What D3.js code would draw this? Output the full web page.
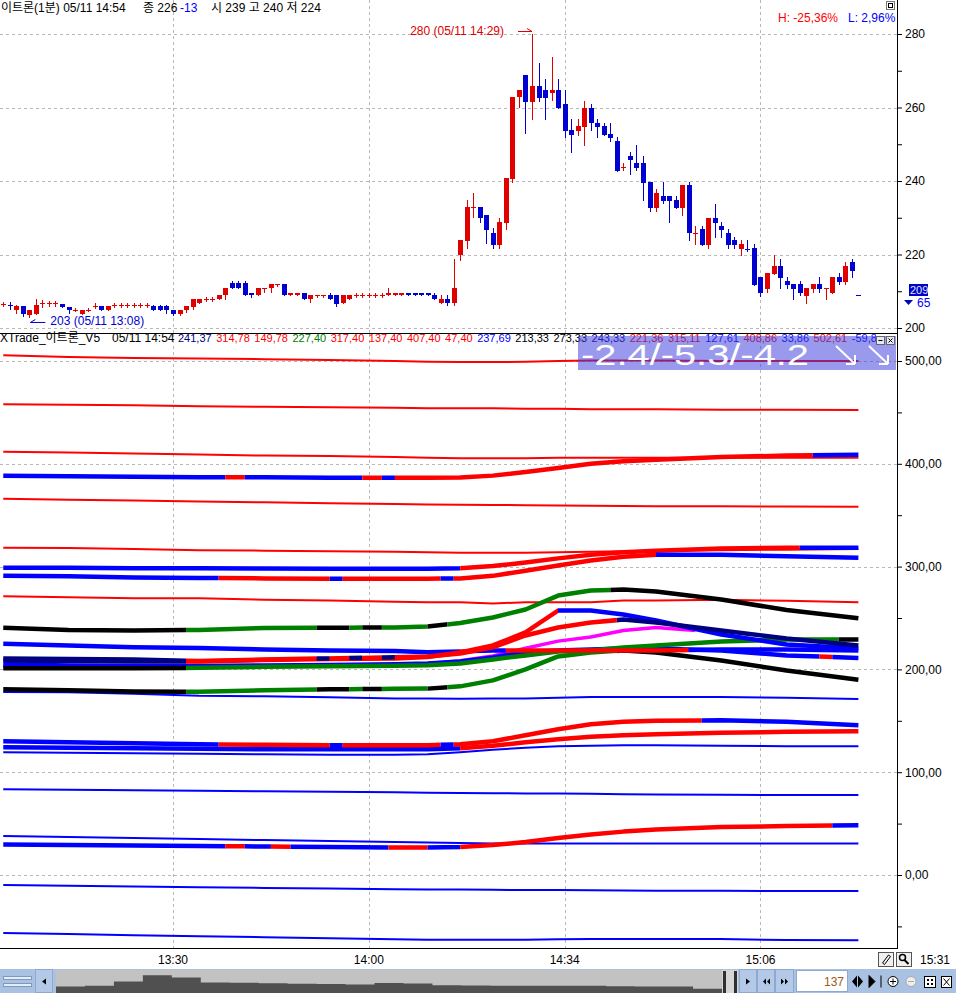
<!DOCTYPE html>
<html><head><meta charset="utf-8">
<script src="https://cdn.jsdelivr.net/npm/d3@7"></script>
<style>
body{margin:0;background:#fff;overflow:hidden;}
svg{display:block;}
</style></head><body>
<svg id="c" width="956" height="993"></svg>
<script>
// ================= DATA =================
// 1-minute candles, bar index 0 = 13:04
const opens = [
206.6,206.3,204.9,206.0,203.5,203.7,206.7,206.7,206.7,206.6,
205.8,204.9,203.7,204.9,206.0,206.0,204.9,206.3,206.3,206.3,
206.3,206.3,206.3,206.0,206.0,206.0,204.9,203.7,204.9,205.8,
206.7,207.8,207.8,207.8,209.0,212.2,212.2,212.2,209.6,209.0,
210.8,210.8,212.0,212.0,209.0,209.0,209.6,207.8,209.0,209.0,
209.0,209.0,206.7,207.8,209.0,209.0,209.0,209.0,209.0,209.0,
209.0,209.0,209.6,209.6,209.6,209.6,209.0,206.7,207.8,206.7,
219.9,223.7,232.9,232.9,230.7,225.9,222.6,228.6,240.5,262.9,
268.8,261.5,265.9,264.8,263.9,264.8,261.0,253.9,253.6,254.7,
259.9,255.8,255.0,252.8,250.9,243.8,246.8,244.9,244.9,239.7,
232.7,235.9,235.9,234.8,232.7,238.9,225.9,226.9,222.6,229.9,
227.8,225.9,223.9,221.5,221.5,221.8,213.9,210.6,214.7,216.9,
212.8,212.0,212.0,208.7,210.6,212.0,210.9,209.5,213.9,212.5,
218.0,209.0];
const highs = [
207.2,207.1,206.3,206.0,204.9,207.8,207.6,207.3,207.3,206.6,
205.8,205.4,204.9,205.5,206.7,206.0,206.0,206.9,206.9,206.9,
206.9,206.9,206.9,206.3,206.3,206.3,204.9,204.9,206.0,207.8,
207.8,208.4,208.4,209.0,210.8,212.9,212.9,212.9,209.6,210.8,
210.8,212.0,212.0,212.0,209.6,209.6,209.6,209.0,209.0,209.0,
209.6,209.0,209.0,209.0,209.6,209.6,209.6,209.6,209.6,210.8,
209.6,209.6,209.6,209.6,209.6,209.6,209.6,209.0,209.0,218.8,
223.9,234.8,236.7,232.9,230.7,227.2,229.9,240.8,262.9,264.8,
268.8,280.0,272.1,267.8,273.7,267.8,264.8,256.9,256.9,261.8,
261.0,256.9,255.8,255.8,252.0,244.9,247.9,249.8,246.8,239.7,
237.8,239.7,235.9,235.9,238.9,239.7,227.8,227.8,229.9,233.7,
228.8,226.9,224.8,223.9,223.9,222.9,213.9,215.0,219.9,218.8,
213.9,212.0,212.8,210.9,212.0,213.9,210.9,213.9,215.0,218.0,
218.8,209.0];
const lows = [
206.0,205.2,204.0,203.3,203.0,203.7,205.8,206.0,206.0,205.8,
204.0,204.5,203.7,204.5,205.5,204.9,204.9,205.8,205.8,205.8,
205.8,205.8,205.8,204.9,204.9,204.0,203.5,203.5,204.3,205.2,
206.7,207.3,207.3,207.8,207.8,210.8,210.8,209.0,208.5,209.0,
209.9,209.9,211.4,209.0,209.0,209.0,207.8,207.2,208.3,208.3,
207.8,206.0,206.7,207.8,208.4,208.4,208.4,208.4,208.4,209.0,
209.0,209.0,209.0,209.0,209.0,209.0,207.8,206.7,206.3,206.3,
218.5,221.8,230.2,228.9,223.1,221.8,221.8,226.9,239.8,260.1,
253.1,256.9,261.8,256.9,262.0,259.9,252.0,247.9,252.5,249.8,
253.9,252.0,252.5,250.9,242.7,243.0,241.9,243.0,234.8,231.8,
231.8,234.0,228.8,232.7,230.7,223.9,222.9,222.6,221.8,224.8,
224.8,221.8,221.8,219.9,221.0,211.7,208.7,209.8,214.7,210.9,
210.9,207.9,209.0,206.8,209.8,209.8,207.9,209.5,212.0,212.0,
213.9,209.0];
const closes = [
206.6,206.3,206.0,203.7,204.9,206.2,206.7,206.7,206.7,205.8,
204.9,204.9,204.9,204.9,206.0,204.9,206.0,206.3,206.3,206.3,
206.3,206.3,206.3,204.9,204.9,204.9,203.7,204.9,206.0,207.8,
207.8,207.8,207.8,209.0,210.8,210.8,210.8,209.0,209.0,210.8,
210.8,212.0,212.0,209.0,209.6,209.6,207.8,209.0,209.0,209.0,
207.8,206.5,209.0,209.0,209.0,209.0,209.0,209.0,209.0,209.6,
209.6,209.6,209.0,209.0,209.0,209.0,207.8,207.8,206.7,210.8,
223.9,232.9,232.9,229.9,226.7,222.6,228.8,240.8,262.9,264.8,
261.5,265.9,262.6,262.6,264.8,259.9,253.6,252.5,255.0,259.9,
255.8,254.7,252.5,251.7,242.7,243.8,245.7,243.5,239.5,232.7,
236.7,234.6,234.6,232.7,238.9,225.9,225.9,222.6,229.9,228.6,
226.7,222.6,222.6,222.9,221.5,211.7,209.5,215.0,216.9,213.6,
211.7,210.6,209.5,210.9,212.0,210.6,210.9,213.9,212.5,216.9,
215.5,209.0];

const slotCount = 137;
const timeTickBars = [26, 56, 86, 116];
const timeTickLabels = ['13:30', '14:00', '14:34', '15:06'];
const priceTicks = [200, 210, 220, 230, 240, 250, 260, 270, 280];
const priceGridLevels = [200, 220, 240, 260, 280];
const indTicks = [-50, 0, 50, 100, 150, 200, 250, 300, 350, 400, 450, 500];
const indGridLevels = [0, 100, 200, 300, 400, 500];

// indicator lines: values read at these bars
const sampleBars = [0, 10, 20, 30, 40, 50, 60, 65, 70, 75, 80, 85, 90, 95, 100, 110, 120, 131];

const redTop   = [505.5,504,503,502.5,501.8,501,500,499.3,499,499,499.2,500,500.5,500.5,500.5,500,500,500];
const red458   = [458,457.5,457,456,455.5,455,454.5,454,454,454,453.5,453.5,453,453,453,452.5,452.5,452.4];
const red412   = [411.7,411,410,409,408,407.5,406.5,406,405.5,405.5,405.5,406,406,406,406,406,406,406];
const red366   = [366,365,364.2,363.3,362.5,361.7,361,360.5,360.2,360,359.7,359.5,359.2,359,358.8,358.6,358.4,358.3];
const red318   = [318.4,318,317,316,315.5,315,314.5,314,313.5,313.5,313.5,314,314.5,315,315.5,316,316.5,317];
const red271   = [271.2,270.2,269.2,269.2,267.7,267,265.7,265.3,265.3,264.1,265.3,265.3,265.3,267,267,267.7,266.7,265.3];
const blue178  = [178,177.7,176.4,174.3,173.8,172.8,171.6,171.6,171.4,171.6,171.6,172.5,173.1,173.1,173.1,173.1,172.5,171.2];
const blue119  = [119.4,118.9,118.4,118,117.5,117,117,117.5,119.4,121.8,123.8,125.2,125.7,126.2,126.2,125.7,125.2,125.2];
const blue83   = [83.5,83,82.5,82,81.5,81,80.5,80,79.8,79.5,79.4,79.2,79,78.6,78.3,78,77.8,77.7];
const blue38   = [37.9,36.9,35.9,35,34,33,32,31.6,31.1,30.6,30.6,30.6,30.6,30.6,30.6,30.6,30.6,30.6];
const blueM10  = [-9.7,-10.5,-11.3,-12,-12.6,-13.2,-13.8,-14,-14.2,-14.4,-14.6,-14.7,-14.9,-15.1,-15.3,-15.4,-15.5,-15.5];
const blueM56  = [-56.3,-57.5,-58.5,-59.5,-60.5,-61.5,-62.5,-63,-63,-63,-63,-62.5,-62.2,-62.2,-62.2,-62.2,-63.3,-63.5];

const thick389 = [388.3,388,387.5,387,386.8,386.5,386.4,386.4,386.6,388.5,392,396,400,402.5,404,406.5,408,408.7];
const thick299 = [299,298.8,298.5,298.3,298.2,298,298,298,298.3,300.5,304,308,311.5,314,315.5,317.5,318.4,318.4];
const thick291 = [291,290.5,289.5,289,288.5,288.3,288.3,288.3,288.5,291,296,301,306,309.5,311.5,311.5,310,308.7];
const bgUpper  = [240.5,238.3,237.9,238.3,240.3,240.5,240.8,241.7,245.1,250.5,258.3,271.8,276.7,277.7,275.7,268,257.8,249.8];
const bgLower  = [180.6,179.6,178.6,178.2,179.6,180.6,181.1,181.3,183.5,189.3,200,212.6,216.5,218.4,216.5,208.7,199,190];
const magenta  = [203,203,202.5,203,203.5,204,204.5,205.4,208.5,213,220.5,227.5,231.5,237.9,240.8,236,230,223];
const greenMid = [201,201,201,201.5,202.5,203,203.5,204,205.8,209.7,213.6,217.5,218.4,221.4,223.3,227.2,229.1,229.1];
const blueLow  = [204.9,203.9,203.4,203.4,203.9,204.4,204.9,205.8,207.8,211.7,216.5,218.4,219.4,220.4,220.4,218.4,213.6,211.2];
const blueFlat = [225,223.3,221.6,220.7,219.4,218.4,217.8,216.8,217.5,218.4,218.4,218.4,218.4,218.4,218.4,219.4,219.4,218.4];
const redPeak  = [208.7,208.2,207.8,207.8,209.2,210.2,210.7,212.1,216.5,223.3,236,257.3,257.3,253.4,247.6,234,224.3,220.4];
const redNavy  = [210.7,210.2,209.7,208.2,209.7,210.7,211.7,212.6,215.5,221.4,233,240.8,245.6,248.5,245.6,237.9,230.1,223.3];
const thick130 = [130.1,129.1,128.2,127.2,126.7,126.2,126.2,126.2,127.2,130.1,135.9,141.7,146.6,149,150,150.5,149,145.6];
const thick124 = [124.3,123.8,123.3,122.8,122.3,122.3,122.3,122.3,123.3,125.7,129.1,132,134.5,135.9,136.9,138.3,139.3,139.8];
const thick30  = [29.6,29.1,28.7,28.2,27.7,27.2,26.7,26.7,27.2,29.1,32,35.9,39.3,42.2,44.2,46.6,47.6,48.5];

// colour states along each line: [fromBar, toBar, state]
const runsThick389 = [[0,34,'b'],[34,37,'r'],[37,55,'b'],[55,58,'r'],[58,60,'b'],[60,124,'r'],[124,131,'b']];
const runsThick299 = [[0,70,'b'],[70,122,'r'],[122,131,'b']];
const runsThick291 = [[0,33,'b'],[33,50,'r'],[50,52,'b'],[52,67,'r'],[67,69,'b'],[69,100,'r'],[100,131,'b']];
const runsBgUpper  = [[0,28,'k'],[28,48,'g'],[48,53,'k'],[53,55,'g'],[55,58,'k'],[58,65,'g'],[65,68,'k'],[68,93,'g'],[93,131,'k']];
const runsBgLower  = [[0,28,'k'],[28,48,'g'],[48,53,'k'],[53,55,'g'],[55,58,'k'],[58,65,'g'],[65,68,'k'],[68,94,'g'],[94,131,'k']];
const runsMagenta  = [[0,106,'m']];
const runsGreenMid = [[0,28,'k'],[28,128,'g'],[128,131,'k']];
const runsBlueLow  = [[0,125,'b'],[125,127,'r'],[127,131,'b']];
const runsBlueFlat = [[0,70,'b'],[70,72,'r'],[72,77,'b'],[77,105,'r'],[105,131,'b']];
const runsRedPeak  = [[0,28,'n'],[28,85,'r'],[85,131,'b']];
const runsRedNavy  = [[0,28,'n'],[28,48,'r'],[48,50,'n'],[50,53,'r'],[53,55,'n'],[55,58,'r'],[58,60,'n'],[60,94,'r'],[94,131,'n']];
const runsThick130 = [[0,33,'b'],[33,50,'r'],[50,52,'b'],[52,67,'r'],[67,69,'b'],[69,107,'r'],[107,131,'b']];
const runsThick124 = [[0,70,'b'],[70,131,'r']];
const runsThick30  = [[0,34,'b'],[34,37,'r'],[37,41,'b'],[41,44,'r'],[44,59,'b'],[59,65,'r'],[65,70,'b'],[70,127,'r'],[127,131,'b']];

const indHeaderValues = ['241,37','314,78','149,78','227,40','317,40','137,40','407,40','47,40','237,69','213,33','273,33','243,33','221,36','315,11','127,61','408,86','33,86','502,61','-59,8'];
const indHeaderStates = ['n','r','r','g','r','r','r','r','b','k','k','n','r','r','b','r','b','r','b'];

// overview strip (whole session) levels
const overviewLevels = [6.3,7,11,17,14.7,10,9.7,9.3,8.8,8.5,8,9.5,9,7.5,7.2,7,7,7,6.8,6.5,6.3,6.3,4,3];

// ================= DRAW =================
const FONT = "'Liberation Sans','Noto Sans CJK KR',sans-serif";
const colorMap = {r:'#ff0000', b:'#0000ff', k:'#000000', g:'#008000', n:'#000080', m:'#ff00ff'};
const UP = '#e00000', DOWN = '#0000d0';
const plotRight = 897;
const svg = d3.select('#c').attr('font-family', FONT);
const defs = svg.append('defs');

const xBand = d3.scaleBand().domain(d3.range(slotCount)).range([0, 894.3]);
const xc = i => xBand(i) + xBand.bandwidth() / 2;
const yP = d3.scaleLinear().domain([200, 280]).range([328, 34]);
const yI = d3.scaleLinear().domain([0, 500]).range([875, 361]);
const lastBar = sampleBars[sampleBars.length - 1];

// ---- grids ----
const grid = svg.append('g').attr('stroke', '#b8b8b8').attr('stroke-dasharray', '3,3').attr('shape-rendering', 'crispEdges');
priceGridLevels.forEach(p => grid.append('line').attr('x1', 0).attr('x2', plotRight).attr('y1', Math.round(yP(p)) + 0.5).attr('y2', Math.round(yP(p)) + 0.5));
indGridLevels.forEach(v => grid.append('line').attr('x1', 0).attr('x2', plotRight).attr('y1', Math.round(yI(v)) + 0.5).attr('y2', Math.round(yI(v)) + 0.5));
timeTickBars.forEach(b => {
  const gx = Math.round(xc(b)) + 0.5;
  grid.append('line').attr('x1', gx).attr('x2', gx).attr('y1', 0).attr('y2', 333);
  grid.append('line').attr('x1', gx).attr('x2', gx).attr('y1', 334).attr('y2', 948);
});

// ---- candles ----
defs.append('clipPath').attr('id', 'pclip').append('rect').attr('x', 0).attr('y', 0).attr('width', plotRight).attr('height', 333);
const cg = svg.append('g').attr('clip-path', 'url(#pclip)').attr('shape-rendering', 'crispEdges');
const candles = opens.map((o, i) => ({i, o, h: highs[i], l: lows[i], c: closes[i]}));
candles.forEach(d => {
  let up;
  if (d.c > d.o) up = true; else if (d.c < d.o) up = false;
  else up = d.i === 0 ? true : !(d.c < closes[d.i - 1]);
  const col = up ? UP : DOWN;
  const cx = Math.round(xc(d.i));
  cg.append('line').attr('x1', cx + 0.5).attr('x2', cx + 0.5)
    .attr('y1', Math.round(yP(d.h))).attr('y2', Math.round(yP(d.l)) + 1)
    .attr('stroke', col).attr('stroke-width', 1);
  const top = Math.round(yP(Math.max(d.o, d.c)));
  const bot = Math.round(yP(Math.min(d.o, d.c)));
  cg.append('rect').attr('x', cx - 2).attr('y', top).attr('width', 5).attr('height', Math.max(1, bot - top))
    .attr('fill', col);
});

// high / low annotations
const hiIdx = highs.indexOf(d3.max(highs));
const loIdx = lows.indexOf(d3.min(lows));
svg.append('text').attr('x', xc(hiIdx) - 28).attr('y', yP(d3.max(highs)) + 1).attr('text-anchor', 'end')
  .attr('font-size', 12).attr('fill', UP).text(`${d3.max(highs)} (05/11 14:29)`);
svg.append('path').attr('d', `M${xc(hiIdx) - 14},${yP(d3.max(highs)) - 2.5}H${xc(hiIdx)}M${xc(hiIdx)},${yP(d3.max(highs)) - 2.5}l-5,-3`)
  .attr('stroke', UP).attr('fill', 'none');
svg.append('text').attr('x', xc(loIdx) + 21).attr('y', yP(d3.min(lows)) + 8).attr('font-size', 12).attr('fill', DOWN)
  .text(`${d3.min(lows)} (05/11 13:08)`);
svg.append('path').attr('d', `M${xc(loIdx) + 1},${yP(d3.min(lows)) + 5.5}H${xc(loIdx) + 16}M${xc(loIdx) + 1},${yP(d3.min(lows)) + 5.5}l5,-3`)
  .attr('stroke', DOWN).attr('fill', 'none');

// ---- price header ----
const ph = svg.append('g').attr('font-size', 12).attr('fill', '#000');
ph.append('text').attr('x', 1).attr('y', 12).text('이트론(1분) 05/11 14:54');
ph.append('text').attr('x', 143).attr('y', 12).text('종 226');
ph.append('text').attr('x', 180).attr('y', 12).attr('fill', '#0000ff').text('-13');
ph.append('text').attr('x', 211).attr('y', 12).text('시 239 고 240 저 224');
svg.append('text').attr('x', 778).attr('y', 22).attr('font-size', 12).attr('fill', '#ff0000').text('H: -25,36%');
svg.append('text').attr('x', 848).attr('y', 22).attr('font-size', 12).attr('fill', '#0000ff').text('L: 2,96%');
svg.append('rect').attr('x', 886.5).attr('y', 1.5).attr('width', 8).attr('height', 8).attr('fill', '#fff').attr('stroke', '#777');
svg.append('rect').attr('x', 888.5).attr('y', 3.5).attr('width', 4).attr('height', 4).attr('fill', 'none').attr('stroke', '#000');

// ---- indicator lines ----
defs.append('clipPath').attr('id', 'iclip').append('rect').attr('x', 0).attr('y', 345).attr('width', plotRight).attr('height', 603);
const ig = svg.append('g').attr('clip-path', 'url(#iclip)');
const lineGen = d3.line().x((d, k) => xc(sampleBars[k])).y(d => yI(d));
let clipCount = 0;
function drawSeries(values, runs, width) {
  const dPath = lineGen(values);
  runs.forEach(([a, b, st]) => {
    const id = 'rc' + (clipCount++);
    const x0 = a === 0 ? 0 : xc(a);
    const x1 = b >= lastBar ? plotRight : xc(b);
    defs.append('clipPath').attr('id', id).append('rect').attr('x', x0).attr('y', 330).attr('width', x1 - x0).attr('height', 630);
    ig.append('path').attr('d', dPath).attr('clip-path', `url(#${id})`).attr('fill', 'none')
      .attr('stroke', colorMap[st]).attr('stroke-width', width).attr('stroke-linejoin', 'round');
  });
}
const THIN = 2, THICK = 4.5;
[[redTop,'r'],[red458,'r'],[red412,'r'],[red366,'r'],[red318,'r'],[red271,'r'],
 [blue178,'b'],[blue119,'b'],[blue83,'b'],[blue38,'b'],[blueM10,'b'],[blueM56,'b']]
  .forEach(([v, st]) => drawSeries(v, [[0, lastBar, st]], THIN));
drawSeries(thick389, runsThick389, THICK);
drawSeries(thick299, runsThick299, THICK);
drawSeries(thick291, runsThick291, THICK);
drawSeries(thick124, runsThick124, THICK);
drawSeries(thick130, runsThick130, THICK);
drawSeries(thick30, runsThick30, THICK);
drawSeries(bgUpper, runsBgUpper, THICK);
drawSeries(bgLower, runsBgLower, THICK);
drawSeries(magenta, runsMagenta, THICK - 1);
drawSeries(blueLow, runsBlueLow, THICK);
drawSeries(greenMid, runsGreenMid, THICK);
drawSeries(blueFlat, runsBlueFlat, THICK);
drawSeries(redPeak, runsRedPeak, THICK);
drawSeries(redNavy, runsRedNavy, THICK);

// ---- indicator header ----
defs.append('clipPath').attr('id', 'hclip').append('rect').attr('x', 0).attr('y', 330).attr('width', 876).attr('height', 20);
const hg = svg.append('g').attr('clip-path', 'url(#hclip)').attr('font-size', 12);
hg.append('text').attr('x', 0).attr('y', 342).attr('fill', '#000').text('XTrade_이트론_V5');
hg.append('text').attr('x', 112).attr('y', 342).attr('fill', '#000').text('05/11 14:54');
let hx = 178;
indHeaderValues.forEach((v, k) => {
  const t = hg.append('text').attr('x', hx).attr('y', 342).attr('font-size', 11).attr('fill', colorMap[indHeaderStates[k]]).text(v);
  hx += t.node().getComputedTextLength() + 4.5;
});

// overlay box
svg.append('rect').attr('x', 578).attr('y', 336).attr('width', 318).attr('height', 34).attr('fill', 'rgba(60,60,220,0.52)');
svg.append('text').attr('x', 581).attr('y', 365).attr('font-size', 30).attr('fill', '#fff')
  .attr('textLength', 228).attr('lengthAdjust', 'spacingAndGlyphs').text('-2.4/-5.3/-4.2');
[836, 869].forEach(ax => {
  svg.append('path').attr('d', `M${ax},346L${ax + 19},364M${ax + 19},364h-9M${ax + 19},364v-9`)
    .attr('stroke', '#fff').attr('stroke-width', 2).attr('fill', 'none');
});
[876.5, 886.5].forEach((bx, k) => {
  svg.append('rect').attr('x', bx).attr('y', 336.5).attr('width', 8).attr('height', 8).attr('fill', '#e8e8f0').attr('stroke', '#666');
  svg.append('path').attr('d', k === 0 ? `M${bx + 2},${340.5}h4` : `M${bx + 2},338.5l4,4M${bx + 6},338.5l-4,4`).attr('stroke', '#000');
});

// ---- axes ----
const frame = svg.append('g').attr('shape-rendering', 'crispEdges').attr('stroke', '#000');
frame.append('line').attr('x1', plotRight + 0.5).attr('x2', plotRight + 0.5).attr('y1', 0).attr('y2', 948);
frame.append('line').attr('x1', 0).attr('x2', plotRight).attr('y1', 333.5).attr('y2', 333.5);
frame.append('line').attr('x1', 0).attr('x2', plotRight + 1).attr('y1', 948.5).attr('y2', 948.5);

const pAxis = d3.axisRight(yP).tickValues(priceTicks).tickSize(5).tickPadding(3).tickFormat(d => d % 20 === 0 ? d : '');
const gPA = svg.append('g').attr('transform', `translate(${plotRight},0)`).call(pAxis);
gPA.select('.domain').remove();
gPA.selectAll('text').attr('font-size', 12).attr('font-family', FONT).attr('fill', '#000');

const fmt2 = d => d3.format('.2f')(d).replace('.', ',');
const iAxis = d3.axisRight(yI).tickValues(indTicks).tickSize(5).tickPadding(3).tickFormat(d => d % 100 === 0 ? fmt2(d) : '');
const gIA = svg.append('g').attr('transform', `translate(${plotRight},0)`).call(iAxis);
gIA.select('.domain').remove();
gIA.selectAll('text').attr('font-size', 12).attr('font-family', FONT).attr('fill', '#000');

const tAxis = d3.axisBottom(xBand).tickValues(timeTickBars).tickSize(0).tickPadding(7)
  .tickFormat(d => timeTickLabels[timeTickBars.indexOf(d)]);
const gTA = svg.append('g').attr('transform', 'translate(0,948)').call(tAxis);
gTA.select('.domain').remove();
gTA.selectAll('text').attr('font-size', 12).attr('font-family', FONT).attr('fill', '#000');

// current price marker
svg.append('rect').attr('x', 909).attr('y', 284).attr('width', 19).attr('height', 12).attr('fill', '#0000c8');
svg.append('text').attr('x', 910).attr('y', 294).attr('font-size', 11).attr('fill', '#dde8ff').text(closes[closes.length - 1].toFixed(0));
svg.append('path').attr('d', 'M904,300L913,300L908.5,305Z').attr('fill', '#0000c8');
svg.append('text').attr('x', 917).attr('y', 307).attr('font-size', 12).attr('fill', '#0000ff').text('65');

// bottom right tools
[878.5, 896.5].forEach((bx, k) => {
  svg.append('rect').attr('x', bx).attr('y', 952.5).attr('width', 15).attr('height', 14).attr('fill', '#f0f0f0').attr('stroke', '#555');
  if (k === 0) svg.append('path').attr('d', `M${bx + 4},${963}l6,-8l2,1.5l-6,8z`).attr('fill', 'none').attr('stroke', '#000');
  else {
    svg.append('circle').attr('cx', bx + 6).attr('cy', 957.5).attr('r', 3).attr('fill', 'none').attr('stroke', '#000').attr('stroke-width', 1.5);
    svg.append('path').attr('d', `M${bx + 8},960l4,4`).attr('stroke', '#000').attr('stroke-width', 2);
  }
});
svg.append('text').attr('x', 920).attr('y', 964).attr('font-size', 12).attr('fill', '#000').text('15:31');

// ---- bottom scroll strip ----
const sb = svg.append('g').attr('shape-rendering', 'crispEdges');
sb.append('rect').attr('x', 0).attr('y', 969).attr('width', 956).attr('height', 24).attr('fill', '#a9c2e2');
sb.append('rect').attr('x', 3.5).attr('y', 976.5).attr('width', 28).attr('height', 3).attr('fill', '#e4edf8').attr('stroke', '#7d99c2');
sb.append('rect').attr('x', 3.5).attr('y', 983.5).attr('width', 28).attr('height', 3).attr('fill', '#e4edf8').attr('stroke', '#7d99c2');
function btn(x0, w) {
  sb.append('rect').attr('x', x0 + 0.5).attr('y', 969.5).attr('width', w).attr('height', 23).attr('fill', '#b3c9e7').attr('stroke', '#8ea9cf');
}
btn(35, 17);
svg.append('path').attr('d', 'M42,981.5l4,-3v6z').attr('fill', '#000');
sb.append('rect').attr('x', 56).attr('y', 970).attr('width', 666).attr('height', 23).attr('fill', '#c2c2c2');
const ovX = d3.scaleLinear().domain([0, overviewLevels.length - 1]).range([56, 722]);
const ovY = d3.scaleLinear().domain([0, 20]).range([993, 972]);
svg.append('path').datum(overviewLevels)
  .attr('d', d3.area().x((d, k) => ovX(k)).y0(993).y1(d => ovY(d)).curve(d3.curveStepAfter))
  .attr('fill', '#505050');
sb.append('rect').attr('x', 722).attr('y', 970).attr('width', 16).attr('height', 23).attr('fill', '#d6d6d6');
sb.append('rect').attr('x', 723).attr('y', 971).attr('width', 3).attr('height', 22).attr('fill', '#303030');
sb.append('rect').attr('x', 734).attr('y', 971).attr('width', 3).attr('height', 22).attr('fill', '#303030');
btn(739, 17); btn(757, 17); btn(775, 18);
svg.append('path').attr('d', 'M746,978.5l4,3l-4,3z').attr('fill', '#000');
svg.append('path').attr('d', 'M763,981.5l3,-3v6zM767,981.5l3,-3v6z').attr('fill', '#000');
svg.append('path').attr('d', 'M781,978.5l3,3l-3,3zM785,978.5l3,3l-3,3z').attr('fill', '#000');
sb.append('rect').attr('x', 796.5).attr('y', 970.5).attr('width', 51).attr('height', 21).attr('fill', '#fff').attr('stroke', '#8ea9cf');
svg.append('text').attr('x', 844).attr('y', 986).attr('text-anchor', 'end').attr('font-size', 12).attr('fill', '#9a5a1a').text(slotCount);
// right icons
svg.append('path').attr('d', 'M852,981.5l5,-6v12zM863,981.5l-5,-6v12z').attr('fill', '#000');
svg.append('path').attr('d', 'M869,975.5l6,6l-6,6zM881,975.5v12').attr('fill', '#000').attr('stroke', '#000');
svg.append('circle').attr('cx', 893).attr('cy', 981.5).attr('r', 5).attr('fill', '#fff').attr('stroke', '#000');
svg.append('path').attr('d', 'M890,981.5h6M893,978.5v6').attr('stroke', '#000');
svg.append('circle').attr('cx', 911).attr('cy', 981.5).attr('r', 5).attr('fill', '#eee').attr('stroke', '#aaa');
svg.append('path').attr('d', 'M908,981.5h6').attr('stroke', '#aaa');
svg.append('rect').attr('x', 924.5).attr('y', 976.5).attr('width', 11).attr('height', 11).attr('fill', '#fff').attr('stroke', '#000');
svg.append('path').attr('d', 'M927,979h2v2h-2zM931,979h2v2h-2zM927,983h2v2h-2zM931,983h2v2h-2z').attr('fill', '#000');
svg.append('rect').attr('x', 941.5).attr('y', 976.5).attr('width', 10).attr('height', 11).attr('fill', '#fff').attr('stroke', '#000');
svg.append('path').attr('d', 'M943.5,978.5l6,7M949.5,978.5l-6,7').attr('stroke', '#000');
</script></body></html>
